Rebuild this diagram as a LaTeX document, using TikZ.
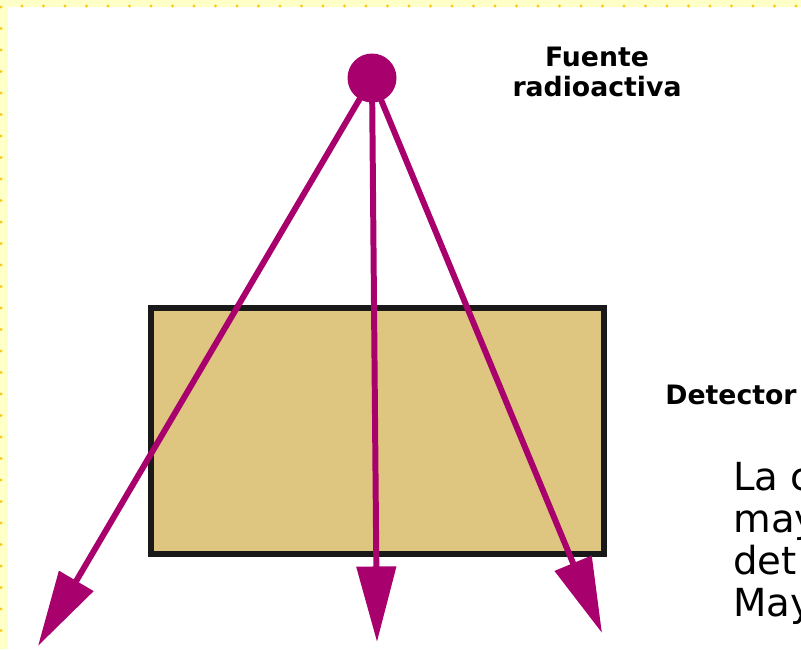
\documentclass[tikz,border=0pt]{standalone}
\usepackage{fontspec}
\setmainfont{DejaVu Sans}
\usetikzlibrary{arrows.meta, positioning}
\definecolor{rayo}{RGB}{168,0,108}
\definecolor{arena}{RGB}{222,198,128}
\definecolor{marco}{RGB}{255,255,200}
\definecolor{punto}{RGB}{255,200,20}

\begin{document}
\begin{tikzpicture}[x=0.02cm, y=-0.02cm,
  haz/.style={line width=3.4pt, draw=rayo, -{Triangle[length=43pt, width=22pt]}},
  etiqueta/.style={font=\fontsize{15.2}{17}\selectfont\bfseries, align=center, inner sep=0pt},
  nota/.style={font=\fontsize{22}{24}\selectfont, anchor=base west, inner sep=0pt}]
\useasboundingbox (0,0) rectangle (801,649);
\clip (0,0) rectangle (801,649);
% Yellow frame with dots
\fill[marco] (0,0) rectangle (801,7);
\fill[marco] (0,0) rectangle (8,649);
\foreach \i in {0,...,36} \fill[punto] (22+21.5*\i,6) circle (1.7);
\foreach \j in {0,...,30} \fill[punto] (1,7+21.5*\j) circle (1.7);
% Detector block
\node[draw=black!90, line width=3.4pt, fill=arena, minimum width=453*0.02cm, minimum height=246*0.02cm, inner sep=0pt] (det) at (377.5,431) {};
% Rays from the source
\coordinate (src) at (372,78);
\coordinate (izq) at (38,646);
\coordinate (cen) at (377,642);
\coordinate (der) at (602,633);
\draw[haz] (src) -- (izq);
\draw[haz] (src) -- (cen);
\draw[haz] (src) -- (der);
\node[circle, fill=rayo, minimum size=49*0.02cm, inner sep=0pt] (fuente) at (src) {};
% Labels
\node[etiqueta] (lbfuente) at (597,72) {Fuente\\radioactiva};
\node[etiqueta, anchor=west] (lbdet) at (665,395) {Detector};
% Text running off the page
\node[nota] (t1) at (733,490) {La c};
\node[nota] (t2) at (733,532) {may};
\node[nota] (t3) at (733,574) {det};
\node[nota] (t4) at (733,616) {May};
\end{tikzpicture}
\end{document}
